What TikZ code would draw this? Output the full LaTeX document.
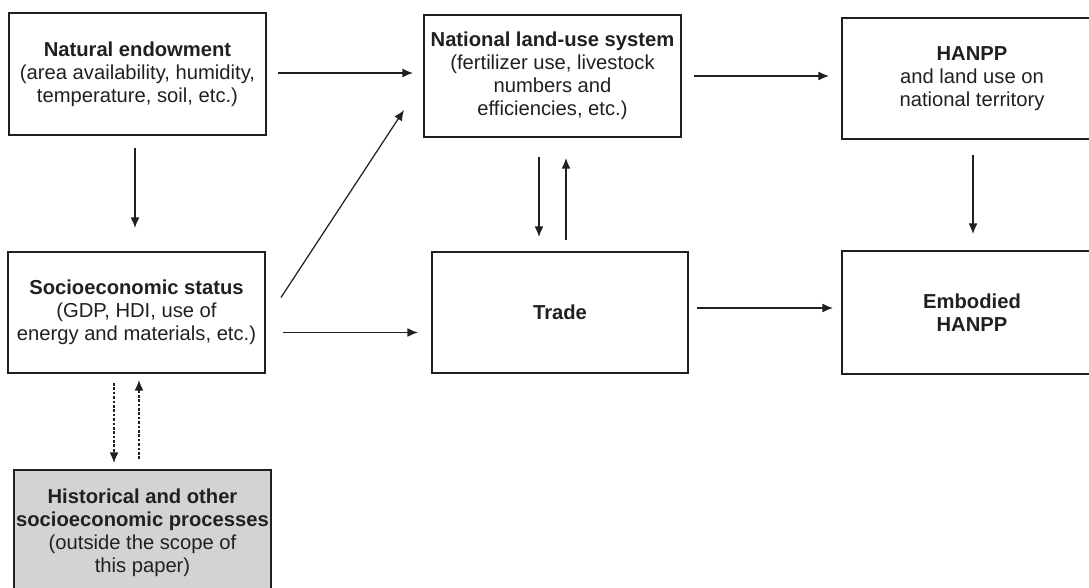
\documentclass[tikz,border=0pt]{standalone}
\usepackage{fontspec}
\setmainfont{Liberation Sans}
\usepackage{tikz}
\usetikzlibrary{calc,arrows.meta}
\definecolor{histgray}{RGB}{211,211,211}
\definecolor{inkgray}{RGB}{35,31,32}
\begin{document}
\begin{tikzpicture}[x=0.02cm,y=-0.02cm,>={Latex[length=6pt,width=5pt]}]
                      \tikzstyle{box}=[draw=inkgray,line width=0.9pt,align=center,inner sep=1pt,outer sep=0pt,text=inkgray,font=\fontsize{11.5}{13}\selectfont]
                      \tikzstyle{flow}=[->,draw=inkgray,line width=0.7pt]
                      \tikzstyle{back}=[->,draw=inkgray,line width=0.7pt,dash pattern=on 1.5pt off 1pt]
                      \clip (0,0) rectangle (1089,588);
                      \node[box,minimum width=5.14cm,minimum height=2.44cm] (nat) at (137.5,74) {\textbf{Natural endowment}\\(area availability, humidity,\\temperature, soil, etc.)};
                      \node[box,minimum width=5.14cm,minimum height=2.44cm] (nlu) at (552.5,76) {\textbf{National land-use system}\\(fertilizer use, livestock\\numbers and\\efficiencies, etc.)};
                      \node[box,minimum width=5.2cm,minimum height=2.42cm] (hanpp) at (972,78.5) {\textbf{HANPP}\\and land use on\\national territory};
                      \node[box,minimum width=5.14cm,minimum height=2.42cm] (socio) at (136.5,312.5) {\textbf{Socioeconomic status}\\(GDP, HDI, use of\\energy and materials, etc.)};
                      \node[box,minimum width=5.12cm,minimum height=2.42cm] (trade) at (560,312.5) {\textbf{Trade}};
                      \node[box,minimum width=5.2cm,minimum height=2.46cm] (emb) at (972,312.5) {\textbf{Embodied}\\\textbf{HANPP}};
                      \node[box,fill=histgray,minimum width=5.14cm,minimum height=2.52cm] (hist) at (142.5,533) {\textbf{Historical and other}\\\textbf{socioeconomic processes}\\(outside the scope of\\this paper)};
                      \draw[flow] ([shift={(12,-1)}]nat.east) -- ([shift={(-11,-1)}]nat.east -| nlu.west);
                      \draw[flow] ([shift={(13,0)}]nlu.east) -- ([shift={(-13,0)}]nlu.east -| hanpp.west);
                      \draw[flow] ([shift={(-2.5,13)}]nat.south) -- ([shift={(-2.5,-24)}]nat.south |- socio.north);
                      \draw[flow] ([shift={(16,-15)}]socio.east) -- ([shift={(-20,-27)}]nlu.south west);
                      \draw[flow] ([shift={(18,20)}]socio.east) -- ([shift={(-14,20)}]socio.east -| trade.west);
                      \draw[flow] ([shift={(9,-4.5)}]trade.east) -- ([shift={(-9,-4.5)}]trade.east -| emb.west);
                      \draw[flow] ([shift={(1,16)}]hanpp.south) -- ([shift={(1,-17)}]hanpp.south |- emb.north);
                      \draw[flow] ([shift={(-13.5,20)}]nlu.south) -- ([shift={(-13.5,-15)}]nlu.south |- trade.north);
                      \draw[flow] ([shift={(6,-12)}]trade.north) -- ([shift={(6,21)}]trade.north |- nlu.south);
                      \draw[back] ([shift={(-22.5,10)}]socio.south) -- ([shift={(-22.5,-7)}]socio.south |- hist.north);
                      \draw[back] ([shift={(-3.5,-11)}]hist.north) -- ([shift={(-3.5,7)}]hist.north |- socio.south);
                  \end{tikzpicture}
\end{document}
